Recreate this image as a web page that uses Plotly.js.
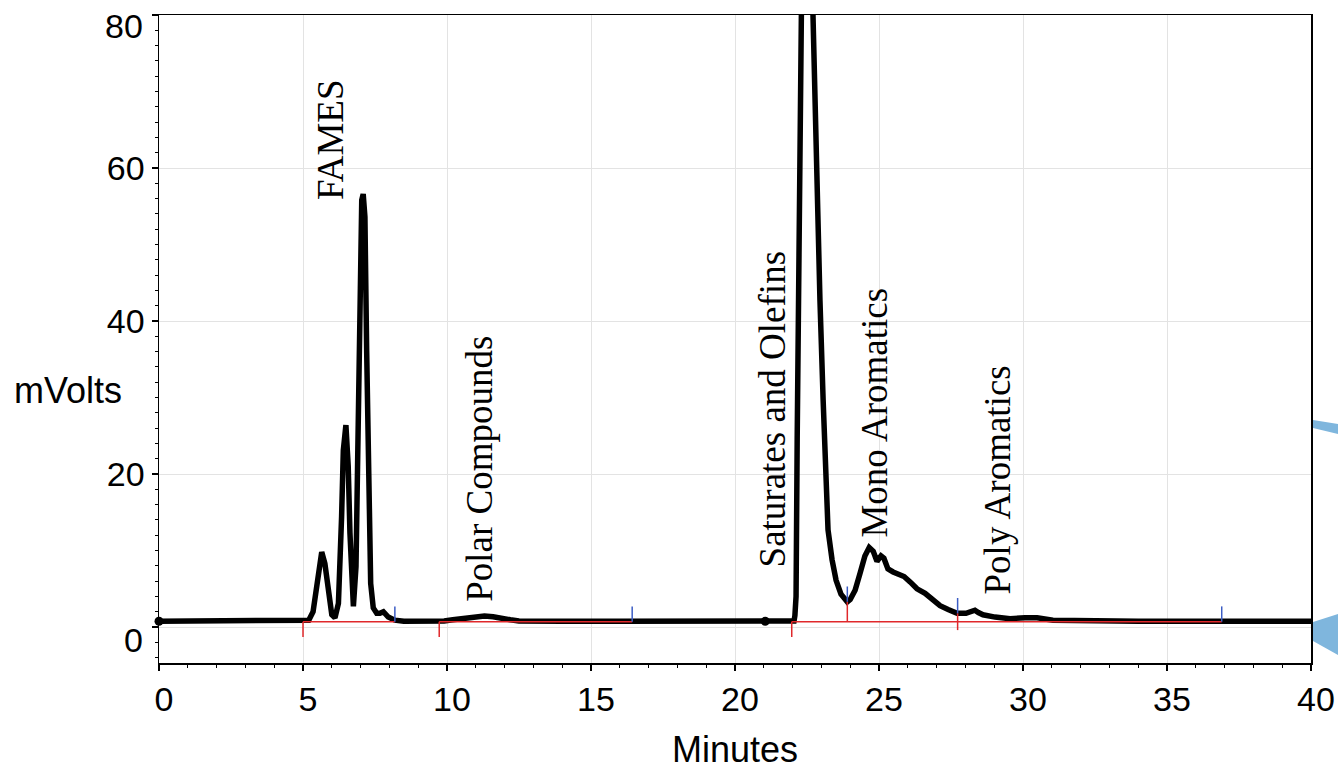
<!DOCTYPE html>
<html>
<head>
<meta charset="utf-8">
<script src="https://cdn.plot.ly/plotly-3.0.1.min.js"></script>
<style>html,body{margin:0;padding:0;background:#fff;}</style>
</head>
<body>
<div id="chart" style="width:1338px;height:769px;"></div>
<script>
// ---- chromatogram signal (minutes, mV) ----
const timeMin = [0, 1, 2, 3, 4, 4.8, 5.0, 5.2, 5.35, 5.47, 5.59, 5.65, 5.76, 5.88, 6.0, 6.11, 6.23, 6.34, 6.4, 6.49, 6.57, 6.63, 6.69, 6.75, 6.84, 6.92, 6.98, 7.04, 7.09, 7.15, 7.21, 7.27, 7.35, 7.44, 7.56, 7.67, 7.79, 7.96, 8.19, 8.5, 9.0, 9.7, 9.9, 10.2, 10.5, 10.8, 11.0, 11.3, 11.6, 11.9, 12.2, 12.5, 13.0, 14, 16, 18, 20, 21.05, 22.0, 22.05, 22.08, 22.12, 22.16, 22.22, 22.3, 22.37, 22.45, 22.55, 22.63, 22.7, 22.78, 22.86, 22.95, 23.06, 23.14, 23.23, 23.37, 23.51, 23.68, 23.8, 23.9, 24.0, 24.17, 24.34, 24.51, 24.66, 24.8, 24.93, 25.07, 25.17, 25.31, 25.49, 25.66, 25.87, 26.08, 26.32, 26.6, 26.84, 27.12, 27.4, 27.71, 28.02, 28.2, 28.33, 28.45, 28.61, 29.03, 29.55, 30.07, 30.49, 31.04, 31.8, 32.33, 32.7, 34, 36, 38, 40];
const signalMV = [0.75, 0.75, 0.75, 0.75, 0.75, 0.75, 0.75, 0.9, 2.0, 5.7, 9.4, 9.8, 8.3, 4.4, 1.6, 1.2, 3.1, 14.4, 23.1, 26.4, 21.0, 12.3, 4.4, 2.7, 7.9, 27.5, 45, 55.8, 56.6, 53.6, 36.2, 18.8, 5.7, 2.5, 1.8, 1.8, 2.0, 1.3, 0.9, 0.75, 0.75, 0.75, 0.8, 0.95, 1.1, 1.35, 1.45, 1.45, 1.35, 1.1, 0.95, 0.8, 0.75, 0.75, 0.75, 0.75, 0.75, 0.75, 0.75, 0.8, 1.5, 4, 25, 52, 80, 105, 118, 110, 92, 80, 69, 55.8, 42.7, 29.7, 19.2, 12.7, 8.8, 6.1, 4.3, 3.6, 3.3, 3.6, 4.8, 7.0, 9.3, 10.4, 9.9, 8.6, 9.3, 9.0, 7.6, 7.2, 7.0, 6.6, 5.9, 5.0, 4.4, 3.6, 2.8, 2.3, 1.8, 1.8, 2.0, 2.2, 1.9, 1.6, 1.3, 1.1, 1.2, 1.2, 0.9, 0.85, 0.8, 0.75, 0.75, 0.75, 0.75, 0.75];

// black dots on the trace
const dotTimes = [0, 21.05];
const dotValues = [0.75, 0.75];

// integration baseline segments
const baselineLevel = 0.7;
const segStart = [5.0, 9.73, 21.97];
const segEnd = [8.19, 16.43, 36.9];
const dividerTimes = [23.9, 27.73];
const dividerTop = [3.3, 1.8];
const dividerLow = [0.7, -0.4];

// peak group labels
const labelText = ["FAMES", "Polar Compounds", "Saturates and Olefins", "Mono Aromatics", "Poly Aromatics"];
const labelTime = [5.94, 11.1, 21.3, 24.83, 29.13];
const labelMV = [63.66, 20.65, 28.5, 28.04, 19.28];

// axis tick labels
const yTickVals = [0, 20, 40, 60, 80];
const yTickText = ["", "20", "40", "60", ""];
const xTickVals = [0, 5, 10, 15, 20, 25, 30, 35, 40];
const xTickText = ["0", "5", "10", "15", "20", "25", "30", "35", "40"];

// ---- build traces ----
const tickDown = 2.0, tickUp = 2.0;
const redX = [], redY = [], blueX = [], blueY = [];
for (let i = 0; i < segStart.length; i++) {
  redX.push(segStart[i], segEnd[i], null); redY.push(baselineLevel, baselineLevel, null);
  redX.push(segStart[i], segStart[i], null); redY.push(baselineLevel, baselineLevel - tickDown, null);
  blueX.push(segEnd[i], segEnd[i], null); blueY.push(baselineLevel, baselineLevel + tickUp, null);
}
for (let i = 0; i < dividerTimes.length; i++) {
  redX.push(dividerTimes[i], dividerTimes[i], null); redY.push(dividerLow[i], dividerTop[i], null);
  blueX.push(dividerTimes[i], dividerTimes[i], null); blueY.push(dividerTop[i], dividerTop[i] + tickUp, null);
}

const traces = [
  {x: timeMin, y: signalMV, mode: 'lines', line: {color: '#000000', width: 5.5}, hoverinfo: 'skip'},
  {x: dotTimes, y: dotValues, mode: 'markers', marker: {color: '#000000', size: 9}, cliponaxis: false, hoverinfo: 'skip'},
  {x: redX, y: redY, mode: 'lines', line: {color: '#e0282b', width: 1.5}, hoverinfo: 'skip'},
  {x: blueX, y: blueY, mode: 'lines', line: {color: '#3b5cc4', width: 1.5}, hoverinfo: 'skip'}
];

const serif = {family: 'Liberation Serif, Times New Roman, serif', size: 37, color: '#000'};
const sans = 'Liberation Sans, Arial, sans-serif';

const annotations = labelText.map((t, i) => ({
  text: t, x: labelTime[i], y: labelMV[i], xref: 'x', yref: 'y',
  textangle: -90, showarrow: false, xanchor: 'center', yanchor: 'middle', font: serif
}));
annotations.push(
  {text: '0', xref: 'paper', yref: 'y', x: 0, y: 0, xanchor: 'right', yanchor: 'middle', xshift: -14, yshift: -13, showarrow: false, font: {family: sans, size: 34, color: '#000'}},
  {text: '80', xref: 'paper', yref: 'y', x: 0, y: 80, xanchor: 'right', yanchor: 'middle', xshift: -14, yshift: -11, showarrow: false, font: {family: sans, size: 34, color: '#000'}},
  {text: 'mVolts', xref: 'paper', yref: 'paper', x: 0, y: (663 - 390) / 648, xanchor: 'left', yanchor: 'middle', xshift: -147, showarrow: false, font: {family: sans, size: 36, color: '#000'}},
  {text: 'Minutes', xref: 'paper', yref: 'paper', x: 0.5, y: 0, xanchor: 'center', yanchor: 'middle', yshift: -86, showarrow: false, font: {family: sans, size: 36, color: '#000'}}
);

function px(xp) { return (xp - 159) / 1152; }
function py(yp) { return (663 - yp) / 648; }
const shapes = [
  {type: 'path', xref: 'paper', yref: 'paper', line: {width: 0}, fillcolor: '#7fb6dd',
   path: `M ${px(1313)} ${py(420)} L ${px(1338)} ${py(424)} L ${px(1338)} ${py(434)} L ${px(1313)} ${py(428)} Z`},
  {type: 'path', xref: 'paper', yref: 'paper', line: {width: 0}, fillcolor: '#7fb6dd',
   path: `M ${px(1313)} ${py(622)} L ${px(1338)} ${py(614)} L ${px(1338)} ${py(655)} L ${px(1313)} ${py(641)} Z`}
];

const layout = {
  width: 1338, height: 769,
  margin: {l: 159, r: 27, t: 15, b: 106, pad: 0},
  paper_bgcolor: '#ffffff', plot_bgcolor: '#ffffff',
  showlegend: false,
  xaxis: {
    range: [0, 40], tickvals: xTickVals, ticktext: xTickText,
    showline: true, mirror: true, linecolor: '#000', linewidth: 1.5,
    ticks: 'outside', ticklen: 6, tickwidth: 1.5, tickcolor: '#000',
    showgrid: true, gridcolor: '#e3e3e3', gridwidth: 1, zeroline: false,
    tickfont: {family: sans, size: 34, color: '#000'},
    ticklabelshift: 5,
    minor: {dtick: 1, ticks: 'outside', ticklen: 3, tickwidth: 1, tickcolor: '#000', showgrid: false},
    automargin: false, fixedrange: true
  },
  yaxis: {
    range: [-4.7, 80], tickvals: yTickVals, ticktext: yTickText,
    showline: true, mirror: true, linecolor: '#000', linewidth: 1.5,
    ticks: 'outside', ticklen: 6, tickwidth: 1.5, tickcolor: '#000',
    showgrid: true, gridcolor: '#e3e3e3', gridwidth: 1, zeroline: false,
    tickfont: {family: sans, size: 34, color: '#000'},
    minor: {dtick: 2, ticks: 'outside', ticklen: 3, tickwidth: 1, tickcolor: '#000', showgrid: false},
    automargin: false, fixedrange: true
  },
  annotations: annotations,
  shapes: shapes
};

Plotly.newPlot('chart', traces, layout, {staticPlot: true, displayModeBar: false});
</script>
</body>
</html>
